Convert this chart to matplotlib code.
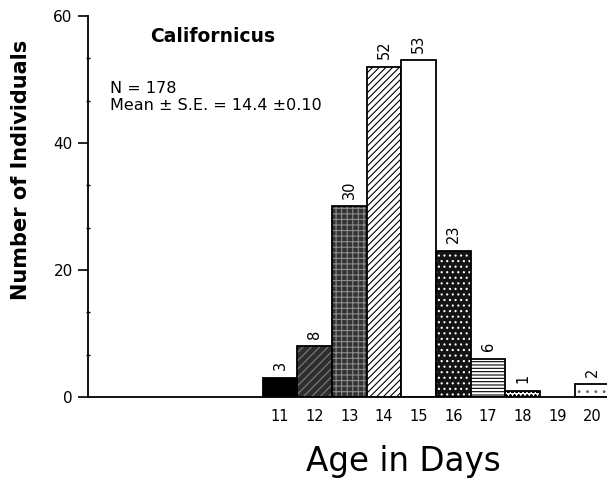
import matplotlib.pyplot as plt
from matplotlib.ticker import MultipleLocator

# histogram of development time
days = [11, 12, 13, 14, 15, 16, 17, 18, 19, 20]
counts = [3, 8, 30, 52, 53, 23, 6, 1, 0, 2]
count_labels = ['3', '8', '30', '52', '53', '23', '6', '1', '', '2']

# fill, hatch, hatch colour for each bar
faces = ['black', '0.18', '0.2', 'white', 'white', '0.08', 'white', 'white', 'white', 'white']
hatches = [None, '////', '+++', '/////', None, '...', '-----', 'oooo', None, '..']
hatch_cols = ['black', '0.5', '0.55', 'black', 'black', 'white', 'black', 'black', 'black', '0.4']

plt.rcParams['font.family'] = 'DejaVu Sans'
plt.rcParams['hatch.linewidth'] = 0.8

fig = plt.figure(figsize=(6.07, 4.79), dpi=100)
ax = fig.add_axes([0.145, 0.1712, 0.855, 0.7954])

for d, c, fc, h, hc in zip(days, counts, faces, hatches, hatch_cols):
	if c == 0:
		continue
	# hatch layer then black outline on top
	ax.bar(d, c, width=1.0, color=fc, edgecolor=hc, hatch=h, linewidth=0)
	ax.bar(d, c, width=1.0, fill=False, edgecolor='black', linewidth=1.3)

for d, c, lab in zip(days, counts, count_labels):
	if lab:
		ax.text(d, c + 1.2, lab, rotation=90, ha='center', va='bottom', fontsize=10.5)

ax.set_xlim(5.46, 20.43)
ax.set_ylim(0, 60)
ax.spines['top'].set_visible(False)
ax.spines['right'].set_visible(False)
ax.spines['left'].set_linewidth(1.3)
ax.spines['bottom'].set_linewidth(1.3)

ax.set_yticks([0, 20, 40, 60])
ax.yaxis.set_minor_locator(MultipleLocator(20 / 3.0))
ax.tick_params(axis='y', which='major', length=7, width=1.2, labelsize=11, pad=4)
ax.tick_params(axis='y', which='minor', length=3, width=1.0, direction='inout')
ax.set_xticks(days)
ax.set_xticklabels([str(d) for d in days])
ax.tick_params(axis='x', length=0, labelsize=10.5, pad=9)

ax.set_ylabel('Number of Individuals', fontsize=15, fontweight='bold')
ax.yaxis.set_label_coords(-0.11, 0.596)
fig.text(0.665, 0.0167, 'Age in Days', fontsize=23.5, ha='center', va='baseline')

ax.text(0.12, 0.945, 'Californicus', transform=ax.transAxes, fontsize=13.5, fontweight='bold', va='center')
ax.text(0.043, 0.81, 'N = 178', transform=ax.transAxes, fontsize=11.5, va='center')
ax.text(0.043, 0.765, 'Mean \u00b1 S.E. = 14.4 \u00b10.10', transform=ax.transAxes, fontsize=11.5, va='center')

plt.savefig('out.png', dpi=100)
